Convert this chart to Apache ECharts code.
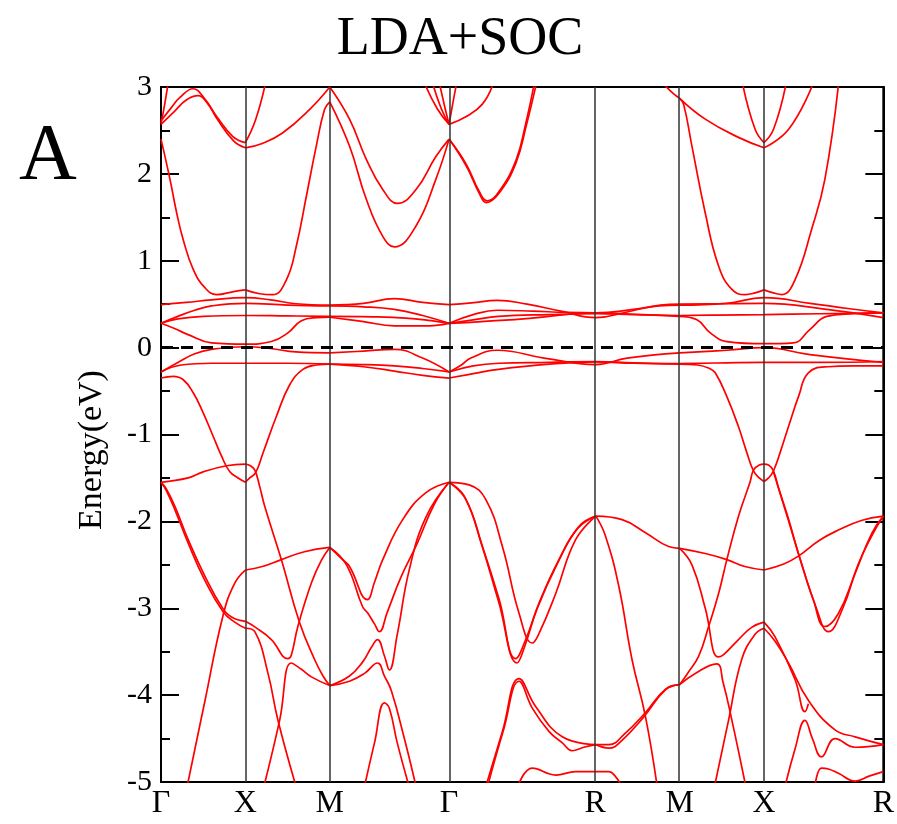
<!DOCTYPE html>
<html>
<head>
<meta charset="utf-8">
<script src="https://cdn.jsdelivr.net/npm/echarts@6/dist/echarts.min.js"></script>
<style>
  html, body { margin: 0; padding: 0; background: #fff; }
  #chart { width: 897px; height: 824px; }
</style>
</head>
<body>
<div id="chart"></div>
<script>
// High-symmetry points along the k-path (units of 2π/a)
const kTicks  = [0, 0.5, 1.0, 1.7071, 2.5731, 3.0731, 3.5731, 4.2802];
const kLabels = ['Γ', 'X', 'M', 'Γ', 'R', 'M', 'X', 'R'];

// Energy window (eV)
const energyMin = -5;
const energyMax = 3;

// Conduction bands, each as [k, E] points
const conductionBands = [
  [[0,2.58],[0.02,2.78],[0.045,3.08]],
  [[0,2.61],[0.06,2.76],[0.112,2.88],[0.19,2.98],[0.26,2.86],[0.33,2.66],[0.426,2.43],[0.5,2.36]],
  [[0.5,2.36],[0.56,2.62],[0.62,3.05]],
  [[0,2.57],[0.08,2.72],[0.15,2.85],[0.22,2.90],[0.28,2.80],[0.33,2.64],[0.43,2.38],[0.5,2.30]],
  [[0.5,2.30],[0.6,2.35],[0.72,2.47],[0.88,2.74],[1.0,3.0]],
  [[0,2.40],[0.053,1.94],[0.093,1.55],[0.132,1.24],[0.191,0.90],[0.26,0.69],[0.33,0.61],[0.43,0.645],[0.5,0.665]],
  [[0.5,0.665],[0.585,0.62],[0.662,0.61],[0.743,0.78],[0.802,1.17],[0.861,1.74],[0.92,2.32],[0.969,2.74],[1.0,2.83]],
  [[1.0,3.0],[1.117,2.63],[1.216,2.17],[1.314,1.82],[1.402,1.66],[1.511,1.82],[1.629,2.20],[1.707,2.40]],
  [[1.0,2.83],[1.117,2.32],[1.216,1.71],[1.314,1.28],[1.383,1.16],[1.511,1.40],[1.629,1.94],[1.707,2.40]],
  [[1.56,3.05],[1.637,2.75],[1.707,2.57]],
  [[1.608,3.05],[1.661,2.75],[1.707,2.57]],
  [[1.649,3.05],[1.684,2.75],[1.707,2.57]],
  [[1.707,2.40],[1.809,2.09],[1.885,1.78],[1.927,1.67],[2.004,1.78],[2.104,2.13],[2.165,2.56],[2.222,3.02]],
  [[1.707,2.40],[1.809,2.11],[1.885,1.80],[1.933,1.69],[2.004,1.80],[2.104,2.16],[2.16,2.57],[2.21,3.02]],
  [[1.707,2.57],[1.809,2.66],[1.903,2.80],[1.965,3.02]],
  [[1.707,2.57],[1.728,2.8],[1.75,3.03]],
  [[2.985,3.02],[3.038,2.92],[3.073,2.87]],
  [[3.073,2.87],[3.225,2.63],[3.422,2.42],[3.573,2.30]],
  [[3.573,2.30],[3.718,2.51],[3.86,3.02]],
  [[3.448,3.02],[3.521,2.51],[3.573,2.36]],
  [[3.573,2.36],[3.629,2.51],[3.702,3.02]],
  [[3.073,2.87],[3.097,2.80],[3.146,2.32],[3.225,1.55],[3.304,0.94],[3.383,0.67],[3.462,0.61],[3.52,0.63],[3.573,0.665]],
  [[3.573,0.665],[3.629,0.63],[3.679,0.61],[3.757,0.78],[3.855,1.36],[3.934,1.94],[4.014,3.02]]
];

// Flat bands just above the Fermi level
const flatBandsAbove = [
  [[0,0.495],[0.15,0.52],[0.3,0.55],[0.5,0.575],[0.65,0.55],[0.8,0.505],[1.0,0.49]],
  [[0,0.28],[0.1,0.36],[0.2,0.43],[0.3,0.48],[0.5,0.51],[0.75,0.49],[1.0,0.48]],
  [[0,0.28],[0.1,0.33],[0.25,0.36],[0.5,0.37],[0.75,0.365],[1.0,0.36]],
  [[0,0.28],[0.08,0.22],[0.16,0.15],[0.3,0.055],[0.5,0.04],[0.654,0.07],[0.752,0.17],[0.832,0.31],[0.92,0.345],[1.0,0.35]],
  [[1.0,0.49],[1.2,0.51],[1.383,0.565],[1.55,0.52],[1.707,0.495]],
  [[1.0,0.48],[1.2,0.47],[1.383,0.44],[1.55,0.37],[1.707,0.28]],
  [[1.0,0.36],[1.25,0.355],[1.45,0.34],[1.6,0.31],[1.707,0.28]],
  [[1.0,0.35],[1.2,0.30],[1.383,0.25],[1.56,0.25],[1.707,0.28]],
  [[1.707,0.495],[1.84,0.515],[1.993,0.545],[2.17,0.50],[2.37,0.42],[2.577,0.345],[2.762,0.41],[2.96,0.49],[3.073,0.50]],
  [[1.707,0.28],[1.85,0.38],[1.993,0.43],[2.2,0.42],[2.4,0.405],[2.577,0.40],[2.8,0.44],[2.95,0.48],[3.073,0.49]],
  [[1.707,0.28],[1.85,0.32],[2.0,0.36],[2.3,0.38],[2.577,0.39],[2.8,0.38],[3.073,0.37]],
  [[1.707,0.28],[1.9,0.30],[2.2,0.34],[2.45,0.39],[2.577,0.40],[2.85,0.38],[3.073,0.36]],
  [[3.073,0.49],[3.35,0.51],[3.573,0.575],[3.846,0.51],[4.07,0.45],[4.28,0.40]],
  [[3.073,0.50],[3.3,0.505],[3.573,0.51],[3.945,0.44],[4.28,0.345]],
  [[3.073,0.37],[3.3,0.375],[3.573,0.38],[3.9,0.39],[4.28,0.40]],
  [[3.073,0.36],[3.176,0.32],[3.255,0.17],[3.353,0.07],[3.573,0.045],[3.747,0.055],[3.846,0.21],[3.945,0.36],[4.1,0.39],[4.28,0.40]]
];

// Flat bands just below the Fermi level
const flatBandsBelow = [
  [[0,-0.28],[0.1,-0.17],[0.2,-0.07],[0.3,-0.02],[0.5,0.01],[0.65,-0.01],[0.8,-0.05],[1.0,-0.06]],
  [[0,-0.28],[0.12,-0.2],[0.3,-0.18],[0.5,-0.18],[0.75,-0.18],[1.0,-0.19]],
  [[1.0,-0.06],[1.2,-0.04],[1.383,-0.02],[1.55,-0.12],[1.707,-0.28]],
  [[1.0,-0.19],[1.2,-0.195],[1.383,-0.21],[1.55,-0.24],[1.707,-0.28]],
  [[1.0,-0.19],[1.2,-0.22],[1.383,-0.27],[1.55,-0.32],[1.707,-0.35]],
  [[1.707,-0.28],[1.78,-0.2],[1.836,-0.12],[1.993,-0.03],[2.27,-0.12],[2.577,-0.195],[2.762,-0.12],[3.073,-0.06]],
  [[1.707,-0.28],[1.85,-0.21],[2.0,-0.18],[2.3,-0.17],[2.577,-0.16],[2.8,-0.175],[3.073,-0.185]],
  [[1.707,-0.35],[1.85,-0.30],[2.0,-0.25],[2.3,-0.19],[2.577,-0.165],[2.8,-0.18],[3.073,-0.19]],
  [[3.073,-0.06],[3.353,-0.03],[3.573,0.0],[3.846,-0.08],[4.28,-0.17]],
  [[3.073,-0.185],[3.35,-0.175],[3.573,-0.17],[3.9,-0.17],[4.28,-0.16]]
];

// Valence bands
const valenceBands = [
  [[0,-0.35],[0.073,-0.33],[0.132,-0.37],[0.191,-0.52],[0.25,-0.75],[0.309,-1.02],[0.359,-1.25],[0.408,-1.43],[0.457,-1.50],[0.5,-1.55]],
  [[0.5,-1.55],[0.526,-1.50],[0.561,-1.44],[0.605,-1.21],[0.684,-0.79],[0.762,-0.43],[0.841,-0.25],[0.92,-0.20],[1.0,-0.19]],
  [[0,-1.55],[0.161,-1.50],[0.25,-1.43],[0.388,-1.36],[0.5,-1.34]],
  [[0.5,-1.34],[0.53,-1.36],[0.556,-1.41],[0.585,-1.60],[0.615,-1.83],[0.713,-2.44],[0.822,-3.17],[0.91,-3.59],[0.96,-3.78],[1.0,-3.89]],
  [[0,-1.55],[0.03,-1.62],[0.083,-1.83],[0.161,-2.21],[0.26,-2.63],[0.359,-2.98],[0.418,-3.10],[0.5,-3.15]],
  [[0,-1.55],[0.03,-1.64],[0.083,-1.87],[0.161,-2.25],[0.26,-2.68],[0.368,-3.04],[0.437,-3.16],[0.5,-3.23]],
  [[0.5,-3.23],[0.556,-3.27],[0.634,-3.75],[0.693,-4.29],[0.80,-5.05]],
  [[0.155,-5.05],[0.26,-4.07],[0.368,-3.08],[0.437,-2.71],[0.5,-2.56]],
  [[0.5,-2.56],[0.6,-2.52],[0.713,-2.44],[0.85,-2.35],[1.0,-2.30]],
  [[0.5,-3.15],[0.56,-3.22],[0.654,-3.36],[0.752,-3.58],[0.772,-3.54],[0.811,-3.21],[0.891,-2.71],[0.95,-2.45],[1.0,-2.30]],
  [[0.61,-5.05],[0.703,-4.29],[0.772,-3.63],[0.83,-3.70],[0.891,-3.79],[1.0,-3.89]],
  [[1.0,-2.30],[1.076,-2.44],[1.117,-2.52],[1.223,-2.90],[1.265,-2.70],[1.314,-2.44],[1.432,-1.98],[1.57,-1.67],[1.707,-1.55]],
  [[1.0,-2.30],[1.099,-2.50],[1.194,-2.98],[1.223,-3.05],[1.265,-3.18],[1.294,-3.27],[1.34,-3.05],[1.42,-2.65],[1.519,-2.25],[1.62,-1.80],[1.707,-1.55]],
  [[1.0,-3.89],[1.117,-3.78],[1.194,-3.62],[1.247,-3.45],[1.283,-3.36],[1.324,-3.55],[1.353,-3.71],[1.40,-3.30],[1.472,-2.55],[1.57,-1.95],[1.707,-1.55]],
  [[1.0,-3.89],[1.117,-3.84],[1.206,-3.75],[1.283,-3.63],[1.324,-3.78],[1.365,-3.95],[1.442,-4.5],[1.511,-5.05]],
  [[1.206,-5.05],[1.265,-4.55],[1.324,-4.09],[1.353,-4.15],[1.40,-4.55],[1.47,-5.05]],
  [[1.707,-1.55],[1.826,-1.58],[1.925,-1.75],[2.023,-2.29],[2.122,-3.06],[2.20,-3.40],[2.24,-3.29],[2.339,-2.83],[2.457,-2.21],[2.577,-1.94]],
  [[1.707,-1.55],[1.807,-1.75],[1.905,-2.29],[2.004,-2.90],[2.102,-3.58],[2.161,-3.36],[2.24,-2.94],[2.358,-2.44],[2.476,-2.06],[2.577,-1.94]],
  [[1.707,-1.55],[1.80,-1.72],[1.90,-2.27],[2.0,-2.92],[2.11,-3.63],[2.155,-3.44],[2.23,-3.0],[2.35,-2.48],[2.47,-2.08],[2.577,-1.94]],
  [[1.925,-5.05],[2.023,-4.42],[2.122,-3.81],[2.22,-4.13],[2.378,-4.48],[2.577,-4.57]],
  [[1.935,-5.05],[2.03,-4.40],[2.122,-3.84],[2.20,-4.15],[2.30,-4.42],[2.378,-4.55],[2.437,-4.64],[2.506,-4.60],[2.577,-4.57]],
  [[2.115,-5.05],[2.20,-4.84],[2.339,-4.92],[2.457,-4.88],[2.577,-4.88]],
  [[2.577,-1.94],[2.732,-1.98],[2.871,-2.13],[3.008,-2.29],[3.073,-2.31]],
  [[2.577,-1.94],[2.634,-2.17],[2.713,-2.75],[2.791,-3.59],[2.871,-4.25],[2.94,-5.05]],
  [[2.577,-4.57],[2.654,-4.61],[2.732,-4.52],[2.861,-4.25],[2.989,-3.94],[3.073,-3.88]],
  [[2.577,-4.57],[2.654,-4.57],[2.75,-4.44],[2.871,-4.20],[2.99,-3.93],[3.073,-3.88]],
  [[2.577,-4.88],[2.654,-4.88],[2.69,-4.93],[2.73,-5.05]],
  [[3.073,-2.31],[3.146,-2.50],[3.225,-3.0],[3.30,-3.56],[3.33,-3.54],[3.422,-3.36],[3.50,-3.22],[3.573,-3.16]],
  [[3.073,-3.88],[3.166,-3.75],[3.292,-3.64],[3.33,-3.85],[3.383,-4.29],[3.465,-5.05]],
  [[3.073,-3.88],[3.12,-3.75],[3.186,-3.55],[3.245,-3.21],[3.304,-2.83],[3.353,-2.44],[3.422,-1.94],[3.49,-1.55],[3.511,-1.41],[3.545,-1.35],[3.573,-1.34]],
  [[3.073,-0.19],[3.18,-0.20],[3.25,-0.24],[3.284,-0.29],[3.35,-0.55],[3.422,-0.91],[3.47,-1.2],[3.511,-1.42],[3.545,-1.50],[3.573,-1.54]],
  [[3.28,-5.05],[3.363,-4.29],[3.441,-3.59],[3.52,-3.30],[3.573,-3.23]],
  [[3.073,-2.31],[3.225,-2.37],[3.353,-2.44],[3.46,-2.52],[3.573,-2.56]],
  [[3.573,-1.54],[3.60,-1.50],[3.629,-1.42],[3.67,-1.2],[3.718,-0.91],[3.78,-0.55],[3.836,-0.29],[3.95,-0.22],[4.1,-0.21],[4.28,-0.21]],
  [[3.573,-1.34],[3.60,-1.35],[3.629,-1.42],[3.66,-1.62],[3.718,-1.97],[3.777,-2.37],[3.865,-2.9],[3.934,-3.21],[4.014,-3.06],[4.113,-2.60],[4.211,-2.14],[4.28,-1.94]],
  [[3.573,-2.56],[3.69,-2.49],[3.777,-2.40],[3.9,-2.22],[4.014,-2.10],[4.15,-1.99],[4.28,-1.94]],
  [[3.629,-1.43],[3.718,-1.99],[3.79,-2.45],[3.88,-2.98],[3.955,-3.27],[4.04,-3.0],[4.13,-2.5],[4.211,-2.17],[4.28,-1.94]],
  [[3.573,-3.16],[3.639,-3.33],[3.757,-3.82],[3.816,-4.19],[3.836,-4.10]],
  [[3.573,-3.23],[3.639,-3.38],[3.718,-3.63],[3.836,-4.06],[3.994,-4.40],[4.113,-4.48],[4.28,-4.57]],
  [[3.698,-5.05],[3.757,-4.62],[3.816,-4.29],[3.86,-4.50],[3.914,-4.71],[3.994,-4.50],[4.113,-4.60],[4.28,-4.57]],
  [[3.875,-5.05],[3.914,-4.84],[3.955,-4.85],[4.014,-4.90],[4.113,-4.99],[4.20,-4.93],[4.28,-4.88]]
];

const serif = '"Liberation Serif", "DejaVu Serif", serif';
const bandColor = '#ff0000';

const allBands = [].concat(conductionBands, flatBandsAbove, flatBandsBelow, valenceBands);

const bandSeries = allBands.map(pts => ({
  type: 'line',
  data: pts,
  smooth: 0.45,
  symbol: 'none',
  silent: true,
  clip: true,
  z: 3,
  lineStyle: { color: bandColor, width: 1.7 }
}));

const labelFor = v => {
  let best = 0;
  kTicks.forEach((k, i) => { if (Math.abs(k - v) < Math.abs(kTicks[best] - v)) best = i; });
  return kLabels[best];
};

const yAxisBase = {
  type: 'value',
  min: energyMin,
  max: energyMax,
  interval: 1,
  axisLine: { show: true, onZero: false, lineStyle: { color: '#000', width: 2 } },
  axisTick: { show: true, inside: true, length: 18, lineStyle: { color: '#000', width: 2 } },
  minorTick: { show: true, splitNumber: 2, length: 9, lineStyle: { color: '#000', width: 2 } },
  splitLine: { show: false }
};

const option = {
  animation: false,
  backgroundColor: '#fff',
  grid: { left: 161, right: 12, top: 87, bottom: 42, show: true, borderColor: '#000', borderWidth: 2 },
  xAxis: [
    {
      type: 'value', min: kTicks[0], max: kTicks[kTicks.length - 1], position: 'bottom',
      axisLine: { show: true, onZero: false, lineStyle: { color: '#000', width: 2 } },
      axisTick: { show: false },
      splitLine: { show: false },
      axisLabel: {
        customValues: kTicks,
        formatter: labelFor,
        color: '#000', fontFamily: serif, fontSize: 32, margin: 6
      }
    }
  ],
  yAxis: [
    Object.assign({}, yAxisBase, {
      position: 'left',
      axisLabel: { color: '#000', fontFamily: serif, fontSize: 30, margin: 9 }
    }),
    Object.assign({}, yAxisBase, {
      position: 'right',
      axisLabel: { show: false }
    })
  ],
  graphic: [
    { type: 'text', x: 460, y: 40, style: { text: 'LDA+SOC', font: '54px ' + serif, fill: '#000', align: 'center', verticalAlign: 'middle' } },
    { type: 'text', x: 48, y: 158, style: { text: 'A', font: '80px ' + serif, fill: '#000', align: 'center', verticalAlign: 'middle' } },
    { type: 'text', x: 92, y: 450, rotation: Math.PI / 2, style: { text: 'Energy(eV)', font: '34px ' + serif, fill: '#000', align: 'center', verticalAlign: 'middle' } }
  ],
  series: [
    {
      type: 'line', data: [], z: 1, silent: true,
      markLine: {
        silent: true, symbol: 'none', animation: false, label: { show: false },
        lineStyle: { color: '#333', width: 1.5, type: 'solid' },
        data: kTicks.slice(1, -1).map(k => ({ xAxis: k }))
      }
    },
    {
      type: 'line', data: [], z: 5, silent: true,
      markLine: {
        silent: true, symbol: 'none', animation: false, label: { show: false },
        lineStyle: { color: '#000', width: 3, type: [12, 8] },
        data: [{ yAxis: 0 }]
      }
    }
  ].concat(bandSeries)
};

const chart = echarts.init(document.getElementById('chart'), null, { renderer: 'canvas' });
chart.setOption(option);
</script>
</body>
</html>
